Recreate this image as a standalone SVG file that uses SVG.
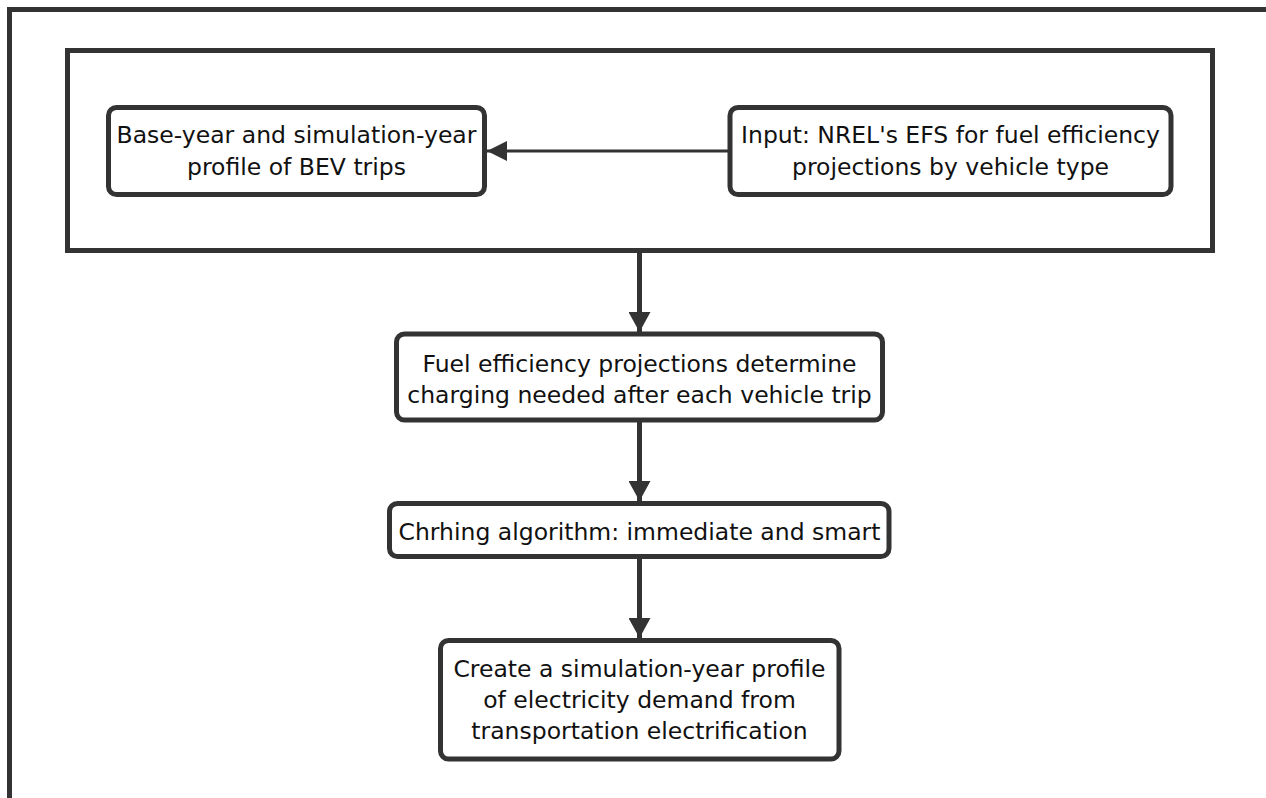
<svg xmlns="http://www.w3.org/2000/svg" width="1266" height="798" viewBox="0 0 1266 798">
<style>
.frame{fill:none;stroke:#333;stroke-width:5}
.node rect{fill:#fff;stroke:#333;stroke-width:5}
.node text{font-family:"DejaVu Sans",sans-serif;font-size:23.5px;fill:#111;text-anchor:middle}
.edge{fill:none;stroke:#333}
</style>
<defs>
<marker id="ah" viewBox="0 0 20 20" refX="20" refY="10" markerWidth="20" markerHeight="20" markerUnits="userSpaceOnUse" orient="auto">
<path d="M0,0 L20,10 L0,20 Z" fill="#333"/>
</marker>
<marker id="ahv" viewBox="0 0 20 22" refX="20" refY="11" markerWidth="20" markerHeight="22" markerUnits="userSpaceOnUse" orient="auto">
<path d="M0,0 L20,11 L0,22 Z" fill="#333"/>
</marker>
</defs>
<rect width="1266" height="798" fill="#fff"/>
<g id="outer-frame"><rect class="frame" x="9.5" y="9.5" width="1320" height="900"/></g>
<g id="group-box"><rect class="frame" x="67.5" y="50.5" width="1145" height="200"/></g>
<g id="connectors">
<path class="edge" stroke-width="3" d="M730,151 H487" marker-end="url(#ah)"/>
<path class="edge" stroke-width="5" d="M639.5,253 V332" marker-end="url(#ahv)"/>
<path class="edge" stroke-width="5" d="M639.5,422 V501" marker-end="url(#ahv)"/>
<path class="edge" stroke-width="5" d="M639.5,559 V638" marker-end="url(#ahv)"/>
</g>
<g id="n1" class="node"><rect x="108.5" y="107.5" width="376" height="87" rx="8"/>
<text x="296.5" y="143">Base-year and simulation-year</text><text x="296.5" y="175">profile of BEV trips</text></g>
<g id="n2" class="node"><rect x="730" y="107.5" width="441" height="87" rx="8"/>
<text x="950.5" y="143">Input: NREL's EFS for fuel efficiency</text><text x="950.5" y="175">projections by vehicle type</text></g>
<g id="n3" class="node"><rect x="396.5" y="334" width="486" height="86" rx="8"/>
<text x="639.5" y="371.5">Fuel efficiency projections determine</text><text x="639.5" y="403">charging needed after each vehicle trip</text></g>
<g id="n4" class="node"><rect x="389.5" y="503.5" width="499.5" height="53" rx="8"/>
<text x="639.5" y="540">Chrhing algorithm: immediate and smart</text></g>
<g id="n5" class="node"><rect x="440.5" y="640.5" width="398.5" height="118.5" rx="8"/>
<text x="639.5" y="677">Create a simulation-year profile</text><text x="639.5" y="708">of electricity demand from</text><text x="639.5" y="739">transportation electrification</text></g>
</svg>
